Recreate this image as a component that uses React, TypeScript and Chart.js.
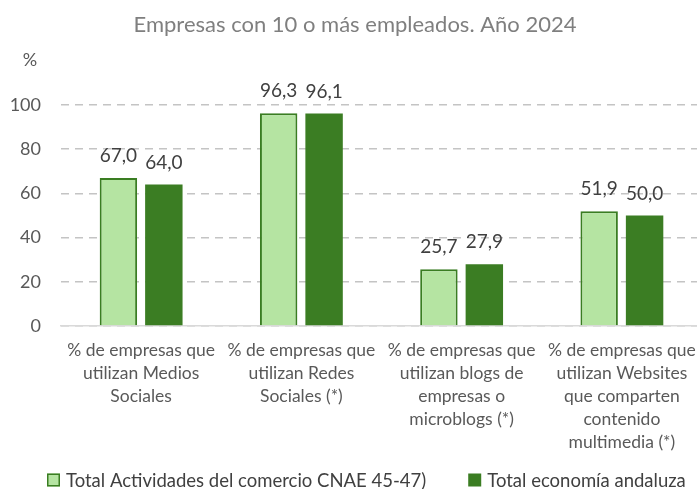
import React, { useEffect, useRef } from "react";
import { Chart, registerables } from "chart.js";

Chart.register(...registerables);

const chartTitle = "Empresas con 10 o más empleados. Año 2024";
const yUnit = "%";
const categories: string[][] = [
  ["% de empresas que", "utilizan Medios", "Sociales"],
  ["% de empresas que", "utilizan Redes", "Sociales (*)"],
  ["% de empresas que", "utilizan blogs de", "empresas o", "microblogs (*)"],
  ["% de empresas que", "utilizan Websites", "que comparten", "contenido", "multimedia (*)"],
];
const seriesNames = ["Total Actividades del comercio CNAE 45-47)", "Total economía andaluza"];
const comercioValues = [67.0, 96.3, 25.7, 51.9];
const andaluciaValues = [64.0, 96.1, 27.9, 50.0];
const yMin = 0;
const yMax = 100;
const yStep = 20;

const FONT = "Lato, 'Open Sans', sans-serif";
const LIGHT = "#b5e4a2";
const DARK = "#3b7d23";
const BORDER = "#3a7d22";

const fmt = (v: number) => v.toFixed(1).replace(".", ",");

const overlayPlugin = {
  id: "overlay",
  afterDatasetsDraw(chart: any) {
    const ctx = chart.ctx;
    ctx.save();
    // data labels
    ctx.fillStyle = "#404040";
    ctx.font = `19px ${FONT}`;
    ctx.textAlign = "center";
    ctx.textBaseline = "alphabetic";
    chart.data.datasets.forEach((ds: any, di: number) => {
      const meta = chart.getDatasetMeta(di);
      meta.data.forEach((el: any, i: number) => {
        ctx.fillText(fmt(ds.data[i]), el.x, el.y - 16);
      });
    });
    // title
    ctx.fillStyle = "#7f7f7f";
    ctx.font = `22px ${FONT}`;
    ctx.textBaseline = "middle";
    ctx.fillText(chartTitle, 355, 25);
    // y unit
    ctx.fillStyle = "#595959";
    ctx.font = `18px ${FONT}`;
    ctx.fillText(yUnit, 30, 60);
    // legend
    ctx.font = `18.5px ${FONT}`;
    ctx.textAlign = "left";
    let x = 47;
    const y = 480;
    const box = 13;
    chart.data.datasets.forEach((ds: any) => {
      ctx.fillStyle = ds.backgroundColor;
      ctx.fillRect(x, y - box / 2, box, box);
      if (ds.borderWidth) {
        ctx.strokeStyle = ds.borderColor;
        ctx.lineWidth = 1.5;
        ctx.strokeRect(x + 0.75, y - box / 2 + 0.75, box - 1.5, box - 1.5);
      }
      ctx.fillStyle = "#404040";
      const tx = x + box + 6;
      ctx.fillText(ds.label, tx, y + 1);
      x = tx + ctx.measureText(ds.label).width + 42;
    });
    ctx.restore();
  },
};

export default function App() {
  const ref = useRef<HTMLCanvasElement>(null);
  useEffect(() => {
    if (!ref.current) return;
    const chart = new Chart(ref.current, {
      type: "bar",
      data: {
        labels: categories,
        datasets: [
          {
            label: seriesNames[0],
            data: comercioValues,
            backgroundColor: LIGHT,
            borderColor: BORDER,
            borderWidth: 2,
            categoryPercentage: 0.567,
            barPercentage: 0.824,
          },
          {
            label: seriesNames[1],
            data: andaluciaValues,
            backgroundColor: DARK,
            borderColor: DARK,
            borderWidth: 0,
            categoryPercentage: 0.567,
            barPercentage: 0.824,
          },
        ],
      },
      options: {
        responsive: false,
        animation: false,
        layout: { padding: { top: 105, left: 0, right: 30, bottom: 35 } },
        plugins: {
          legend: { display: false },
          title: { display: false },
          tooltip: { enabled: false },
        },
        scales: {
          x: {
            grid: { display: false, drawTicks: false },
            border: { display: true, color: "#d9d9d9", width: 1.5 },
            ticks: {
              color: "#595959",
              font: { family: FONT, size: 17.5, lineHeight: "23px" as any },
              padding: 13,
              autoSkip: false,
              maxRotation: 0,
              minRotation: 0,
            },
            afterFit: (s: any) => {
              s.height = 128;
            },
          },
          y: {
            min: yMin,
            max: yMax,
            grid: { color: "#c4c4c4", lineWidth: 1.5, drawTicks: false },
            border: { display: false, dash: [8, 6] },
            ticks: {
              stepSize: yStep,
              color: "#595959",
              font: { family: FONT, size: 18 },
              padding: 20,
            },
            afterFit: (s: any) => {
              s.width = 61;
            },
          },
        },
      },
      plugins: [overlayPlugin],
    });
    return () => chart.destroy();
  }, []);
  return (
    <div style={{ position: "absolute", left: 0, top: 0, width: 697, height: 489, overflow: "hidden", background: "#fff" }}>
      <canvas ref={ref} width={732} height={489} style={{ display: "block" }} />
    </div>
  );
}
